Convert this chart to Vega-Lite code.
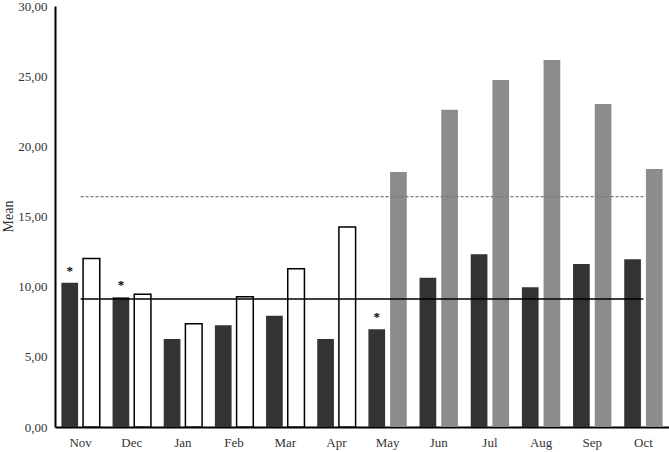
{
  "$schema": "https://vega.github.io/schema/vega-lite/v6.json",
  "width": 614,
  "height": 421,
  "autosize": {"type": "none"},
  "padding": {"left": 55, "top": 6, "right": 0, "bottom": 25},
  "background": "white",
  "config": {
    "view": {"stroke": null},
    "font": "Liberation Serif, DejaVu Serif, serif",
    "text": {"font": "Liberation Serif, DejaVu Serif, serif"},
    "axis": {
      "labelFont": "Liberation Serif, DejaVu Serif, serif",
      "titleFont": "Liberation Serif, DejaVu Serif, serif",
      "labelColor": "#333333",
      "titleColor": "#333333",
      "labelFontSize": 13,
      "titleFontSize": 14,
      "titleFontWeight": "normal",
      "grid": false,
      "ticks": false,
      "domainColor": "#000000",
      "domainWidth": 2
    }
  },
  "datasets": {
    "bars": [
      {"month": "Nov", "series": "first", "kind": "A", "value": 10.28, "star": true},
      {"month": "Nov", "series": "second", "kind": "B", "value": 12.0, "star": false},
      {"month": "Dec", "series": "first", "kind": "A", "value": 9.24, "star": true},
      {"month": "Dec", "series": "second", "kind": "B", "value": 9.46, "star": false},
      {"month": "Jan", "series": "first", "kind": "A", "value": 6.27, "star": false},
      {"month": "Jan", "series": "second", "kind": "B", "value": 7.36, "star": false},
      {"month": "Feb", "series": "first", "kind": "A", "value": 7.25, "star": false},
      {"month": "Feb", "series": "second", "kind": "B", "value": 9.29, "star": false},
      {"month": "Mar", "series": "first", "kind": "A", "value": 7.93, "star": false},
      {"month": "Mar", "series": "second", "kind": "B", "value": 11.28, "star": false},
      {"month": "Apr", "series": "first", "kind": "A", "value": 6.27, "star": false},
      {"month": "Apr", "series": "second", "kind": "B", "value": 14.25, "star": false},
      {"month": "May", "series": "first", "kind": "A", "value": 6.96, "star": true},
      {"month": "May", "series": "second", "kind": "C", "value": 18.17, "star": false},
      {"month": "Jun", "series": "first", "kind": "A", "value": 10.64, "star": false},
      {"month": "Jun", "series": "second", "kind": "C", "value": 22.6, "star": false},
      {"month": "Jul", "series": "first", "kind": "A", "value": 12.31, "star": false},
      {"month": "Jul", "series": "second", "kind": "C", "value": 24.73, "star": false},
      {"month": "Aug", "series": "first", "kind": "A", "value": 9.96, "star": false},
      {"month": "Aug", "series": "second", "kind": "C", "value": 26.16, "star": false},
      {"month": "Sep", "series": "first", "kind": "A", "value": 11.62, "star": false},
      {"month": "Sep", "series": "second", "kind": "C", "value": 23.02, "star": false},
      {"month": "Oct", "series": "first", "kind": "A", "value": 11.95, "star": false},
      {"month": "Oct", "series": "second", "kind": "C", "value": 18.39, "star": false}
    ],
    "solidRef": [
      {"month": "Nov", "mean": 9.12},
      {"month": "Oct", "mean": 9.12}
    ],
    "dashRef": [
      {"month": "Nov", "mean": 16.41},
      {"month": "Oct", "mean": 16.41}
    ]
  },
  "layer": [
    {
      "data": {"name": "bars"},
      "mark": {"type": "bar", "stroke": "#000000"},
      "encoding": {
        "x": {
          "field": "month",
          "type": "nominal",
          "sort": ["Nov", "Dec", "Jan", "Feb", "Mar", "Apr", "May", "Jun", "Jul", "Aug", "Sep", "Oct"],
          "scale": {"paddingInner": 0.25, "paddingOuter": 0.125},
          "axis": {"title": null, "labelAngle": 0, "labelPadding": 9}
        },
        "xOffset": {
          "field": "series",
          "type": "nominal",
          "scale": {"domain": ["first", "second"], "paddingInner": 0.23, "paddingOuter": 0}
        },
        "y": {
          "field": "value",
          "type": "quantitative",
          "scale": {"domain": [0, 30], "nice": false},
          "axis": {
            "title": "Mean",
            "values": [0, 5, 10, 15, 20, 25, 30],
            "labelExpr": "replace(format(datum.value, '.2f'), '.', ',')",
            "labelPadding": 8,
            "titleAngle": -90,
            "titleX": -47,
            "titleY": 210,
            "titleAlign": "center",
            "titleBaseline": "middle"
          }
        },
        "fill": {
          "field": "kind",
          "type": "nominal",
          "scale": {"domain": ["A", "B", "C"], "range": ["#333333", "#ffffff", "#8c8c8c"]},
          "legend": null
        },
        "strokeWidth": {"condition": {"test": "datum.kind === 'B'", "value": 1.5}, "value": 0}
      }
    },
    {
      "data": {"name": "bars"},
      "transform": [{"filter": "datum.star"}],
      "mark": {"type": "text", "baseline": "alphabetic", "dy": -8, "fontSize": 13, "fontWeight": "bold", "font": "Liberation Serif, DejaVu Serif, serif", "fill": "#000000"},
      "encoding": {
        "x": {"field": "month", "type": "nominal", "sort": ["Nov", "Dec", "Jan", "Feb", "Mar", "Apr", "May", "Jun", "Jul", "Aug", "Sep", "Oct"]},
        "xOffset": {"field": "series", "type": "nominal"},
        "y": {"field": "value", "type": "quantitative"},
        "text": {"value": "*"},
        "fill": {"value": "#000000"}
      }
    },
    {
      "data": {"name": "solidRef"},
      "mark": {"type": "line", "color": "#000000", "strokeWidth": 1.5},
      "encoding": {
        "x": {"field": "month", "type": "nominal", "sort": ["Nov", "Dec", "Jan", "Feb", "Mar", "Apr", "May", "Jun", "Jul", "Aug", "Sep", "Oct"]},
        "y": {"field": "mean", "type": "quantitative"}
      }
    },
    {
      "data": {"name": "dashRef"},
      "mark": {"type": "line", "color": "#7a7a7a", "strokeWidth": 1.2, "strokeDash": [3, 2]},
      "encoding": {
        "x": {"field": "month", "type": "nominal", "sort": ["Nov", "Dec", "Jan", "Feb", "Mar", "Apr", "May", "Jun", "Jul", "Aug", "Sep", "Oct"]},
        "y": {"field": "mean", "type": "quantitative"}
      }
    }
  ]
}
